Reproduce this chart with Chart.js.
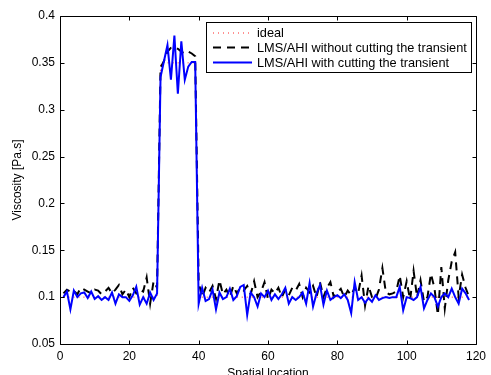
<!DOCTYPE html>
<html>
<head>
<meta charset="utf-8">
<script src="https://cdn.jsdelivr.net/npm/chart.js@4"></script>
<style>
  html, body { margin: 0; padding: 0; background: #fff; }
  canvas { display: block; }
</style>
</head>
<body>
<canvas id="c" width="491" height="375"></canvas>
<script>
// ---- data ----
const locations = [1,2,3,4,5,6,7,8,9,10,11,12,13,14,15,16,17,18,19,20,21,22,23,24,25,26,27,28,29,30,31,32,33,34,35,36,37,38,39,40,41,42,43,44,45,46,47,48,49,50,51,52,53,54,55,56,57,58,59,60,61,62,63,64,65,66,67,68,69,70,71,72,73,74,75,76,77,78,79,80,81,82,83,84,85,86,87,88,89,90,91,92,93,94,95,96,97,98,99,100,101,102,103,104,105,106,107,108,109,110,111,112,113,114,115,116,117,118];

const idealValues = [0.1,0.1,0.1,0.1,0.1,0.1,0.1,0.1,0.1,0.1,0.1,0.1,0.1,0.1,0.1,0.1,0.1,0.1,0.1,0.1,0.1,0.1,0.1,0.1,0.1,0.1,0.1,0.1,
  0.35,0.35,0.35,0.35,0.35,0.35,0.35,0.35,0.35,0.35,0.35,
  0.1,0.1,0.1,0.1,0.1,0.1,0.1,0.1,0.1,0.1,0.1,0.1,0.1,0.1,0.1,0.1,0.1,0.1,0.1,0.1,0.1,0.1,0.1,0.1,0.1,0.1,0.1,0.1,0.1,0.1,
  0.1,0.1,0.1,0.1,0.1,0.1,0.1,0.1,0.1,0.1,0.1,0.1,0.1,0.1,0.1,0.1,0.1,0.1,0.1,0.1,0.1,0.1,0.1,0.1,0.1,0.1,0.1,0.1,0.1,0.1,
  0.1,0.1,0.1,0.1,0.1,0.1,0.1,0.1,0.1,0.1,0.1,0.1,0.1,0.1,0.1,0.1,0.1,0.1,0.1];

const withoutCutValues = [0.104,0.108,0.106,0.107,0.103,0.110,0.108,0.106,0.104,0.108,0.107,0.103,0.106,0.110,0.104,0.108,0.113,0.103,0.108,0.100,0.110,0.104,0.108,0.106,0.121,0.093,0.117,0.110,
  0.345,0.352,0.362,0.366,0.367,0.365,0.362,0.360,0.362,0.360,0.357,
  0.116,0.100,0.110,0.105,0.112,0.098,0.118,0.103,0.108,0.100,0.112,0.104,0.110,0.107,0.112,0.103,0.117,0.100,0.106,0.116,
  0.098,0.108,0.104,0.110,0.100,0.108,0.102,0.110,0.107,0.114,0.100,0.110,0.105,0.112,0.100,0.116,0.100,0.110,0.116,0.100,
  0.105,0.109,0.100,0.107,0.102,0.110,0.104,0.123,0.091,0.112,0.100,0.098,0.108,0.131,0.105,0.103,0.104,0.106,0.123,0.100,
  0.117,0.097,0.128,0.100,0.118,0.095,0.100,0.125,0.110,0.081,0.132,0.088,0.118,0.138,0.148,0.100,0.124,0.110,0.100];

const withCutValues = [0.100,0.106,0.087,0.107,0.100,0.104,0.105,0.099,0.106,0.098,0.101,0.097,0.100,0.097,0.105,0.093,0.103,0.100,0.100,0.096,0.102,0.111,0.092,0.100,0.093,0.105,0.097,0.104,
  0.335,0.352,0.369,0.332,0.379,0.317,0.373,0.332,0.346,0.351,0.351,
  0.093,0.110,0.096,0.098,0.108,0.087,0.105,0.098,0.100,0.109,0.097,0.101,0.111,0.113,0.081,0.105,0.100,0.090,0.104,0.100,
  0.107,0.097,0.103,0.098,0.103,0.110,0.093,0.100,0.097,0.100,0.105,0.093,0.115,0.090,0.104,0.113,0.092,0.107,0.097,0.100,
  0.102,0.099,0.103,0.097,0.083,0.116,0.097,0.100,0.094,0.099,0.095,0.102,0.097,0.099,0.100,0.099,0.100,0.100,0.111,0.086,
  0.100,0.099,0.097,0.100,0.111,0.088,0.097,0.104,0.100,0.090,0.100,0.104,0.100,0.109,0.100,0.093,0.109,0.104,0.097];

const seriesLabels = ['ideal', 'LMS/AHI without cutting the transient', 'LMS/AHI with cutting the transient'];
const xTickValues = [0, 20, 40, 60, 80, 100, 120];
const yTickValues = [0.05, 0.1, 0.15, 0.2, 0.25, 0.3, 0.35, 0.4];
const xTitle = 'Spatial location';
const yTitle = 'Viscosity [Pa.s]';

// ---- styles ----
const FONT = "'Liberation Sans', Arial, Helvetica, sans-serif";
const toPts = (vals) => vals.map((v, i) => ({ x: locations[i], y: v }));

const seriesStyles = [
  { color: '#ff2020', width: 1, dash: [1, 4] },
  { color: '#000000', width: 2, dash: [8, 6] },
  { color: '#0000ff', width: 2, dash: [] }
];

const framePlugin = {
  id: 'frame',
  afterDatasetsDraw(chart) {
    const { ctx, chartArea: a, scales } = chart;
    ctx.save();
    ctx.strokeStyle = '#000';
    ctx.lineWidth = 1;
    ctx.setLineDash([]);
    ctx.beginPath();
    const L = Math.round(a.left) + 0.5, R = Math.round(a.right) + 0.5;
    const T = Math.round(a.top) + 0.5, B = Math.round(a.bottom) + 0.5;
    ctx.rect(L, T, R - L, B - T);
    const tl = 4;
    xTickValues.forEach(v => {
      const px = Math.round(scales.x.getPixelForValue(v)) + 0.5;
      ctx.moveTo(px, B); ctx.lineTo(px, B - tl);
      ctx.moveTo(px, T); ctx.lineTo(px, T + tl);
    });
    yTickValues.forEach(v => {
      const py = Math.round(scales.y.getPixelForValue(v)) + 0.5;
      ctx.moveTo(L, py); ctx.lineTo(L + tl, py);
      ctx.moveTo(R, py); ctx.lineTo(R - tl, py);
    });
    ctx.stroke();
    ctx.restore();
  },
  afterDraw(chart) {
    const { ctx } = chart;
    ctx.save();
    const bx = 206.5, by = 22.5, bw = 265, bh = 50;
    ctx.fillStyle = '#fff';
    ctx.fillRect(bx, by, bw, bh);
    ctx.strokeStyle = '#000';
    ctx.lineWidth = 1;
    ctx.setLineDash([]);
    ctx.strokeRect(bx, by, bw, bh);
    const rows = [33, 47.5, 62.5];
    ctx.font = '12.75px ' + FONT;
    ctx.textBaseline = 'middle';
    ctx.textAlign = 'left';
    chart.data.datasets.forEach((ds, i) => {
      const st = seriesStyles[i];
      const y = rows[i];
      ctx.beginPath();
      ctx.strokeStyle = st.color;
      ctx.lineWidth = st.width;
      ctx.setLineDash(st.dash);
      ctx.moveTo(213, y);
      ctx.lineTo(252, y);
      ctx.stroke();
      ctx.setLineDash([]);
      ctx.fillStyle = '#000';
      ctx.fillText(ds.label, 257, y + 0.5);
    });
    ctx.restore();
  }
};

new Chart(document.getElementById('c'), {
  type: 'line',
  data: {
    datasets: [
      { label: seriesLabels[0], data: toPts(idealValues), borderColor: seriesStyles[0].color, borderWidth: seriesStyles[0].width, borderDash: seriesStyles[0].dash, order: 3 },
      { label: seriesLabels[1], data: toPts(withoutCutValues), borderColor: seriesStyles[1].color, borderWidth: seriesStyles[1].width, borderDash: seriesStyles[1].dash, order: 2 },
      { label: seriesLabels[2], data: toPts(withCutValues), borderColor: seriesStyles[2].color, borderWidth: seriesStyles[2].width, borderDash: seriesStyles[2].dash, order: 1 }
    ]
  },
  options: {
    responsive: false,
    devicePixelRatio: 1,
    animation: false,
    layout: { padding: { left: 0, right: 14, top: 16, bottom: 0 } },
    elements: { point: { radius: 0, hoverRadius: 0 }, line: { tension: 0, fill: false, borderJoinStyle: 'miter' } },
    plugins: { legend: { display: false }, tooltip: { enabled: false } },
    scales: {
      x: {
        type: 'linear', min: 0, max: 120,
        afterBuildTicks: s => { s.ticks = xTickValues.map(v => ({ value: v })); },
        afterFit: s => { s.height = 31; },
        grid: { display: false, drawTicks: false },
        border: { display: false },
        ticks: { padding: 5, color: '#000', font: { family: FONT, size: 12 }, maxRotation: 0, callback: v => String(v) },
        title: { display: true, text: xTitle, color: '#000', font: { family: FONT, size: 12 }, padding: { top: 0, bottom: -6 } }
      },
      y: {
        type: 'linear', min: 0.05, max: 0.4,
        afterBuildTicks: s => { s.ticks = yTickValues.map(v => ({ value: v })); },
        afterFit: s => { s.width = 60; },
        grid: { display: false, drawTicks: false },
        border: { display: false },
        ticks: { padding: 5, color: '#000', font: { family: FONT, size: 12 }, callback: v => String(+v.toFixed(2)) },
        title: { display: true, text: yTitle, color: '#000', font: { family: FONT, size: 12 }, padding: { top: 10, bottom: 0 } }
      }
    }
  },
  plugins: [framePlugin]
});
</script>
</body>
</html>
